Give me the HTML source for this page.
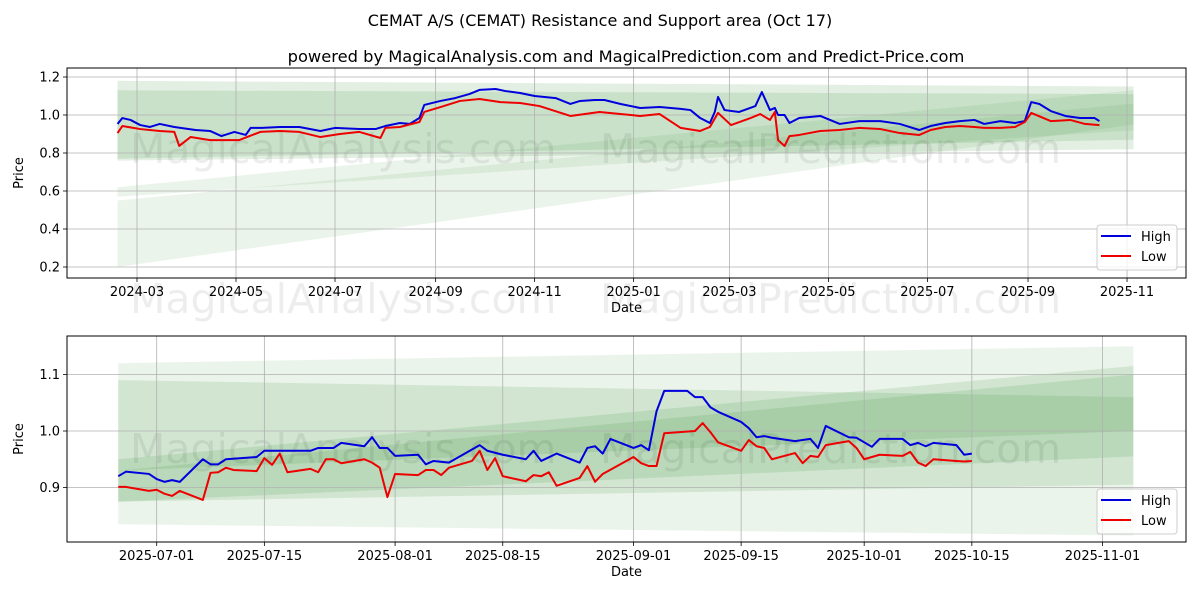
<!DOCTYPE html>
<html><head><meta charset="utf-8"><style>
body{margin:0;background:#fff;}
svg text{font-family:"DejaVu Sans","Liberation Sans",sans-serif;}
</style></head><body>
<svg id="chart" width="1200" height="600" viewBox="0 0 1200 600" xmlns="http://www.w3.org/2000/svg">
<rect width="1200" height="600" fill="#fff"/>
<text x="600" y="26" text-anchor="middle" font-size="16" fill="#000">CEMAT A/S (CEMAT) Resistance and Support area (Oct 17)</text>
<text x="626" y="62" text-anchor="middle" font-size="16.3" fill="#000">powered by MagicalAnalysis.com and MagicalPrediction.com and Predict-Price.com</text>
<g id="top"></g>
<g id="bot"></g>
</svg>
<script>
// Top chart data: days offset from 2024-03-01
const topHighDays=[-12,-9,-4,2,8,14,23,36,45,52,60,67,70,77,88,100,113,122,137,147,153,162,168,174,177,187,196,205,211,221,227,236,245,258,267,273,282,288,298,310,322,335,341,347,353,356,358,362,371,381,385,390,393,395,399,402,408,421,433,445,458,470,482,489,498,507,516,522,532,541,547,551,556,563,572,581,590,593];
const topHighVals=[.953,.984,.974,.947,.937,.953,.937,.921,.916,.889,.911,.895,.932,.932,.937,.937,.916,.932,.926,.926,.942,.958,.953,.984,1.053,1.074,1.089,1.111,1.132,1.137,1.126,1.116,1.1,1.089,1.058,1.074,1.079,1.079,1.058,1.037,1.042,1.032,1.026,.984,.958,1.016,1.095,1.026,1.016,1.047,1.121,1.026,1.037,1.0,1.0,.958,.984,.995,.953,.968,.968,.953,.921,.942,.958,.968,.974,.953,.968,.958,.968,1.068,1.058,1.021,.995,.984,.984,.968];
const topLowDays=[-12,-9,2,14,23,26,33,45,54,63,76,88,100,113,125,137,150,153,162,174,177,187,199,211,224,236,248,267,285,310,322,335,347,353,358,366,378,384,390,393,395,399,402,408,421,433,445,458,470,482,489,498,507,516,522,532,541,547,551,563,575,584,593];
const topLowVals=[.905,.942,.926,.916,.911,.837,.884,.868,.868,.868,.911,.916,.911,.884,.9,.911,.879,.932,.937,.963,1.016,1.042,1.074,1.084,1.068,1.063,1.047,.995,1.016,.995,1.005,.932,.916,.937,1.011,.947,.984,1.005,.974,1.016,.868,.837,.889,.895,.916,.921,.932,.926,.905,.895,.921,.937,.942,.937,.932,.932,.937,.963,1.011,.968,.974,.953,.947];
const topXTicks=["2024-03","2024-05","2024-07","2024-09","2024-11","2025-01","2025-03","2025-05","2025-07","2025-09","2025-11"];
const topXTickDays=[0,61,122,184,245,306,365,426,487,549,610];
const topYTicks=[0.2,0.4,0.6,0.8,1.0,1.2];
const topBands=[[1.18,1.15,0.76,0.82],[1.13,1.11,0.77,0.87],[0.55,1.06,0.2,0.95],[0.62,1.13,0.57,0.92]];
const topBandLight=[0,0,1,1];
const topBandDays=[-12,614];
// Bottom chart data: days offset from 2025-07-01
const botHighDays=[-5,-4,-1,0,1,2,3,6,7,8,9,13,14,20,21,23,24,27,28,29,30,31,34,35,36,38,42,43,45,48,49,50,52,55,56,57,58,59,62,63,64,65,66,69,70,71,72,73,76,77,78,79,80,83,85,86,87,90,91,93,94,97,98,99,100,101,104,105,106];
const botHighVals=[.920,.928,.924,.915,.910,.913,.910,.950,.941,.941,.950,.954,.965,.965,.970,.970,.979,.973,.989,.970,.970,.956,.958,.941,.947,.944,.975,.965,.958,.950,.965,.947,.960,.944,.970,.973,.960,.986,.970,.975,.966,1.035,1.071,1.071,1.060,1.060,1.042,1.034,1.016,1.005,.989,.991,.988,.982,.986,.970,1.009,.989,.988,.972,.986,.986,.975,.979,.973,.979,.975,.958,.960];
const botLowDays=[-5,-4,-1,0,1,2,3,6,7,8,9,10,13,14,15,16,17,20,21,22,23,24,27,28,29,30,31,34,35,36,37,38,41,42,43,44,45,48,49,50,51,52,55,56,57,58,62,63,64,65,66,70,71,72,73,76,77,78,79,80,83,84,85,86,87,90,91,92,94,97,98,99,100,101,104,105,106];
const botLowVals=[.901,.901,.894,.896,.889,.885,.894,.878,.926,.927,.935,.931,.929,.952,.940,.960,.927,.933,.927,.950,.950,.943,.950,.944,.935,.883,.924,.922,.931,.931,.922,.935,.947,.965,.931,.952,.920,.911,.922,.920,.927,.903,.917,.938,.910,.924,.954,.943,.938,.938,.996,1.000,1.014,.998,.980,.965,.984,.973,.970,.950,.961,.943,.956,.954,.975,.982,.970,.950,.958,.956,.963,.944,.938,.950,.947,.946,.947];
const botXTicks=["2025-07-01","2025-07-15","2025-08-01","2025-08-15","2025-09-01","2025-09-15","2025-10-01","2025-10-15","2025-11-01"];
const botXTickDays=[0,14,31,45,62,76,92,106,123];
const botYTicks=[0.9,1.0,1.1];
const botBands=[[1.12,1.15,0.835,0.815],[1.09,1.06,0.875,0.905],[0.95,1.115,0.875,0.955],[0.93,1.10,0.93,1.0]];
const botBandLight=[1,0,0,0];
const botBandDays=[-5,127];

const NS="http://www.w3.org/2000/svg";
function mk(parent,tag,attrs){const e=document.createElementNS(NS,tag);for(const k in attrs)e.setAttribute(k,attrs[k]);parent.appendChild(e);return e;}

function panel(g,cfg){
  const {L,R,T,B,xs,ys}=cfg;
  cfg.bands.forEach((b,i)=>{
    const x0=xs(cfg.bandDays[0]),x1=xs(cfg.bandDays[1]);
    const p=mk(g,'polygon',{points:`${x0},${ys(b[0])} ${x1},${ys(b[1])} ${x1},${ys(b[3])} ${x0},${ys(b[2])}`,fill:'rgb(60,150,60)','fill-opacity':cfg.light[i]?0.1:0.15});
    
    
  });
  [[cfg.wm1x,'MagicalAnalysis.com'],[cfg.wm2x,'MagicalPrediction.com']].forEach(w=>{
    const t=mk(g,'text',{x:w[0],y:cfg.wmy,'font-size':41,fill:'#000','fill-opacity':0.07});
    t.textContent=w[1];
    
    
  });
  cfg.xTickDays.forEach((d,i)=>{
    const x=xs(d);
    mk(g,'line',{x1:x,x2:x,y1:T,y2:B,stroke:'#b0b0b0','stroke-width':0.8});
    mk(g,'line',{x1:x,x2:x,y1:B,y2:B+4,stroke:'#000','stroke-width':0.8});
    const t=mk(g,'text',{x:x,y:B+18,'text-anchor':'middle','font-size':13});
    t.textContent=cfg.xTicks[i];
    
    
  });
  cfg.yTicks.forEach(v=>{
    const y=ys(v);
    mk(g,'line',{x1:L,x2:R,y1:y,y2:y,stroke:'#b0b0b0','stroke-width':0.8});
    mk(g,'line',{x1:L-4,x2:L,y1:y,y2:y,stroke:'#000','stroke-width':0.8});
    const t=mk(g,'text',{x:L-7,y:y+4.5,'text-anchor':'end','font-size':13});
    t.textContent=v.toFixed(1);
    
    
  });
  const hp=cfg.hd.map((d,i)=>xs(d)+','+ys(cfg.hv[i])).join(' ');
  const lp=cfg.ld.map((d,i)=>xs(d)+','+ys(cfg.lv[i])).join(' ');
  const h=mk(g,'polyline',{points:hp,fill:'none',stroke:'#0000dd','stroke-width':2,'stroke-linejoin':'round'});
  
  
  const l=mk(g,'polyline',{points:lp,fill:'none',stroke:'#ee0000','stroke-width':2,'stroke-linejoin':'round'});
  
  
  mk(g,'rect',{x:L,y:T,width:R-L,height:B-T,fill:'none',stroke:'#000','stroke-width':1});
  const xl=mk(g,'text',{x:(L+R)/2,y:B+34,'text-anchor':'middle','font-size':13});
  xl.textContent='Date';
  
  
  const yl=mk(g,'text',{x:0,y:0,'text-anchor':'middle','font-size':13,transform:`translate(${L-44},${(T+B)/2}) rotate(-90)`});
  yl.textContent='Price';
  
  
  const lg=mk(g,'g',{});
  
  
  const ly=B-53;
  mk(lg,'rect',{x:R-89,y:ly,width:80,height:45,rx:3,fill:'#fff','fill-opacity':0.8,stroke:'#ccc'});
  [['High','#0000dd',11],['Low','#ee0000',31]].forEach(e=>{
    const en=mk(lg,'g',{});
    
    
    mk(en,'line',{x1:R-85,x2:R-55,y1:ly+e[2],y2:ly+e[2],stroke:e[1],'stroke-width':2});
    const t=mk(en,'text',{x:R-45,y:ly+e[2]+5,'font-size':13});
    t.textContent=e[0];
  });
}

panel(document.getElementById('top'),{L:67,R:1186,T:68,B:278,
  xs:d=>137+d*1.623, ys:v=>115-(v-1)*190,
  bands:topBands,light:topBandLight,bandDays:topBandDays,xTicks:topXTicks,xTickDays:topXTickDays,yTicks:topYTicks,
  hd:topHighDays,hv:topHighVals,ld:topLowDays,lv:topLowVals,wm1x:130,wm2x:600,wmy:163});
panel(document.getElementById('bot'),{L:67,R:1186,T:336,B:542,
  xs:d=>156.7+d*7.69, ys:v=>431-(v-1)*565,
  bands:botBands,light:botBandLight,bandDays:botBandDays,xTicks:botXTicks,xTickDays:botXTickDays,yTicks:botYTicks,
  hd:botHighDays,hv:botHighVals,ld:botLowDays,lv:botLowVals,wm1x:130,wm2x:600,wmy:463});
const wmm=document.getElementById('chart');
[[130,'MagicalAnalysis.com'],[600,'MagicalPrediction.com']].forEach(w=>{
  const t=document.createElementNS(NS,'text');
  t.setAttribute('x',w[0]);t.setAttribute('y',313);t.setAttribute('font-size',41);
  t.setAttribute('fill','#000');t.setAttribute('fill-opacity',0.07);
  t.textContent=w[1];
  
  
  wmm.appendChild(t);
});
</script>
</body></html>
